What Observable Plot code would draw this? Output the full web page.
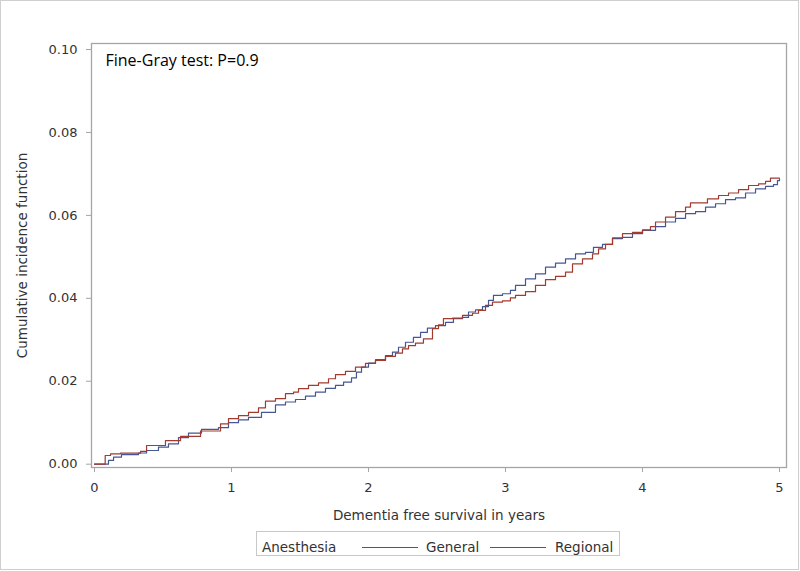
<!DOCTYPE html>
<html>
<head>
<meta charset="utf-8">
<script src="https://cdn.jsdelivr.net/npm/d3@7"></script>
<script src="https://cdn.jsdelivr.net/npm/@observablehq/plot@0.6"></script>
<style>
  html, body { margin: 0; padding: 0; background: #fff; }
  #page { position: relative; width: 800px; height: 571px; overflow: hidden; background: #fff; }
  #border { position: absolute; left: 0; top: 0; width: 797px; height: 568px; border: 1px solid #cfcfcf; pointer-events: none; }
  #chart { position: absolute; left: 0; top: 0; }
  #legend { position: absolute; left: 256px; top: 531px; width: 364px; height: 25px; border: 1px solid #c8c8c8; box-sizing: border-box;
            font-family: "DejaVu Sans", Verdana, sans-serif; font-size: 13.5px; color: #333; }
  #legend span { position: absolute; top: 8px; line-height: 14px; white-space: nowrap; }
  #legend i { position: absolute; top: 15px; height: 1px; width: 56px; }
</style>
</head>
<body>
<div id="page">
  <div id="chart"></div>
  <div id="legend"></div>
  <div id="border"></div>
</div>
<script>
// Cumulative incidence step points [years, CIF]
const generalSteps = [
  [0,0],[0.102,0.0009],[0.139,0.0017],[0.197,0.0023],[0.321,0.0027],[0.38,0.0033],[0.467,0.0041],[0.54,0.0049],
  [0.613,0.0064],[0.686,0.0075],[0.781,0.0084],[0.905,0.0088],[0.978,0.0100],[1.051,0.0107],[1.124,0.0113],
  [1.219,0.0125],[1.321,0.0143],[1.394,0.0150],[1.467,0.0156],[1.540,0.0164],[1.613,0.0174],[1.686,0.0183],
  [1.759,0.0190],[1.818,0.0198],[1.876,0.0208],[1.912,0.0222],[1.949,0.0234],[2.0,0.0244],[2.051,0.0252],
  [2.124,0.0262],[2.175,0.0270],[2.219,0.0282],[2.27,0.0294],[2.328,0.0306],[2.38,0.0318],[2.43,0.0328],
  [2.489,0.0334],[2.562,0.0342],[2.62,0.0351],[2.686,0.0354],[2.73,0.0367],[2.781,0.0372],[2.832,0.0380],
  [2.876,0.0395],[2.912,0.0407],[2.978,0.0411],[3.036,0.0419],[3.073,0.0431],[3.146,0.0447],[3.219,0.0459],
  [3.292,0.0475],[3.365,0.0485],[3.438,0.0495],[3.511,0.0507],[3.584,0.0511],[3.642,0.0523],[3.708,0.0530],
  [3.781,0.0544],[3.854,0.0547],[3.927,0.0556],[4.0,0.0564],[4.095,0.0573],[4.168,0.0584],[4.241,0.0593],
  [4.314,0.0604],[4.387,0.0609],[4.460,0.0620],[4.533,0.0628],[4.606,0.0638],[4.679,0.0642],[4.752,0.0654],
  [4.825,0.0664],[4.898,0.0670],[4.956,0.0674],[4.985,0.0684],[5.0,0.0688]
];
const regionalSteps = [
  [0,0],[0.078,0.0021],[0.117,0.0025],[0.19,0.00265],[0.336,0.0031],[0.38,0.0045],[0.518,0.0057],[0.628,0.0067],
  [0.774,0.0080],[0.92,0.0097],[0.978,0.0110],[1.051,0.0117],[1.124,0.0125],[1.197,0.0136],[1.248,0.0152],
  [1.321,0.0158],[1.394,0.0170],[1.453,0.0174],[1.489,0.0182],[1.562,0.0190],[1.635,0.0196],[1.708,0.0206],
  [1.759,0.0216],[1.832,0.0224],[1.905,0.0234],[1.978,0.0243],[2.051,0.0250],[2.124,0.0260],[2.197,0.0268],
  [2.248,0.0278],[2.292,0.0286],[2.343,0.0292],[2.401,0.0302],[2.467,0.0327],[2.511,0.0336],[2.547,0.0351],
  [2.613,0.0352],[2.686,0.0359],[2.759,0.0364],[2.803,0.0371],[2.854,0.0383],[2.905,0.0391],[2.978,0.0394],
  [3.036,0.0401],[3.073,0.0407],[3.146,0.0416],[3.219,0.0431],[3.292,0.0445],[3.365,0.0453],[3.438,0.0463],
  [3.489,0.0483],[3.562,0.0495],[3.635,0.0507],[3.679,0.0519],[3.730,0.0530],[3.781,0.0546],[3.854,0.0556],
  [3.927,0.0559],[4.0,0.0565],[4.058,0.0573],[4.095,0.0584],[4.168,0.0596],[4.241,0.0609],[4.314,0.0620],
  [4.350,0.0630],[4.474,0.0640],[4.555,0.0648],[4.628,0.0654],[4.701,0.0662],[4.774,0.0672],[4.847,0.0676],
  [4.898,0.0682],[4.934,0.0690],[5.0,0.0690]
];
const groups = ["General", "Regional"];
const groupColors = ["#445694", "#A23A2E"];
const xTicks = [0, 1, 2, 3, 4, 5];
const yTicks = [0, 0.02, 0.04, 0.06, 0.08, 0.10];
const legendTitle = "Anesthesia";
const annotation = "Fine-Gray test: P=0.9";
const xLabel = "Dementia free survival in years";
const yLabel = "Cumulative incidence function";

const rows = [
  ...generalSteps.map(([t, v]) => ({t, v, g: groups[0]})),
  ...regionalSteps.map(([t, v]) => ({t, v, g: groups[1]}))
];

const font = "'DejaVu Sans', Verdana, sans-serif";
const plot = Plot.plot({
  width: 800,
  height: 528,
  marginLeft: 91,
  marginRight: 14,
  marginTop: 43,
  marginBottom: 61,
  style: {fontFamily: font, fontSize: "13px", background: "white", color: "#333"},
  x: {domain: [-0.0219, 5.051]},
  y: {domain: [-0.0008, 0.10145]},
  color: {domain: groups, range: groupColors},
  marks: [
    Plot.axisX({ticks: xTicks, tickSize: 5, tickPadding: 10, stroke: "#a5a5a5", fill: "#333",
      tickFormat: d3.format("d"), label: null}),
    Plot.axisY({ticks: yTicks, tickSize: 5, tickPadding: 9, stroke: "#a5a5a5", fill: "#333",
      tickFormat: d3.format(".2f"), label: null}),
    Plot.text([xLabel], {frameAnchor: "bottom", dy: 48, lineAnchor: "middle", textAnchor: "middle", fontSize: 13.5, fill: "#333"}),
    Plot.text([yLabel], {frameAnchor: "left", dx: -69, lineAnchor: "middle", textAnchor: "middle", rotate: -90, fontSize: 13.5, fill: "#333"}),
    Plot.frame({stroke: "#a5a5a5", strokeWidth: 1.3}),
    Plot.line(rows, {x: "t", y: "v", z: "g", stroke: "g", curve: "step-after", strokeWidth: 1.2}),
    Plot.text([annotation], {frameAnchor: "top-left", dx: 14, dy: 11, lineAnchor: "top", textAnchor: "start",
      fontSize: 16, fontFamily: "'Open Sans', sans-serif", fill: "#000"})
  ]
});
document.getElementById("chart").appendChild(plot);

// legend
const lg = document.getElementById("legend");
const items = [
  {kind: "text", text: legendTitle, left: 5},
  {kind: "line", color: groupColors[0], left: 105},
  {kind: "text", text: groups[0], left: 169},
  {kind: "line", color: groupColors[1], left: 233},
  {kind: "text", text: groups[1], left: 298}
];
for (const it of items) {
  const el = document.createElement(it.kind === "text" ? "span" : "i");
  el.style.left = it.left + "px";
  if (it.kind === "text") el.textContent = it.text;
  else el.style.background = it.color;
  lg.appendChild(el);
}
</script>
</body>
</html>
